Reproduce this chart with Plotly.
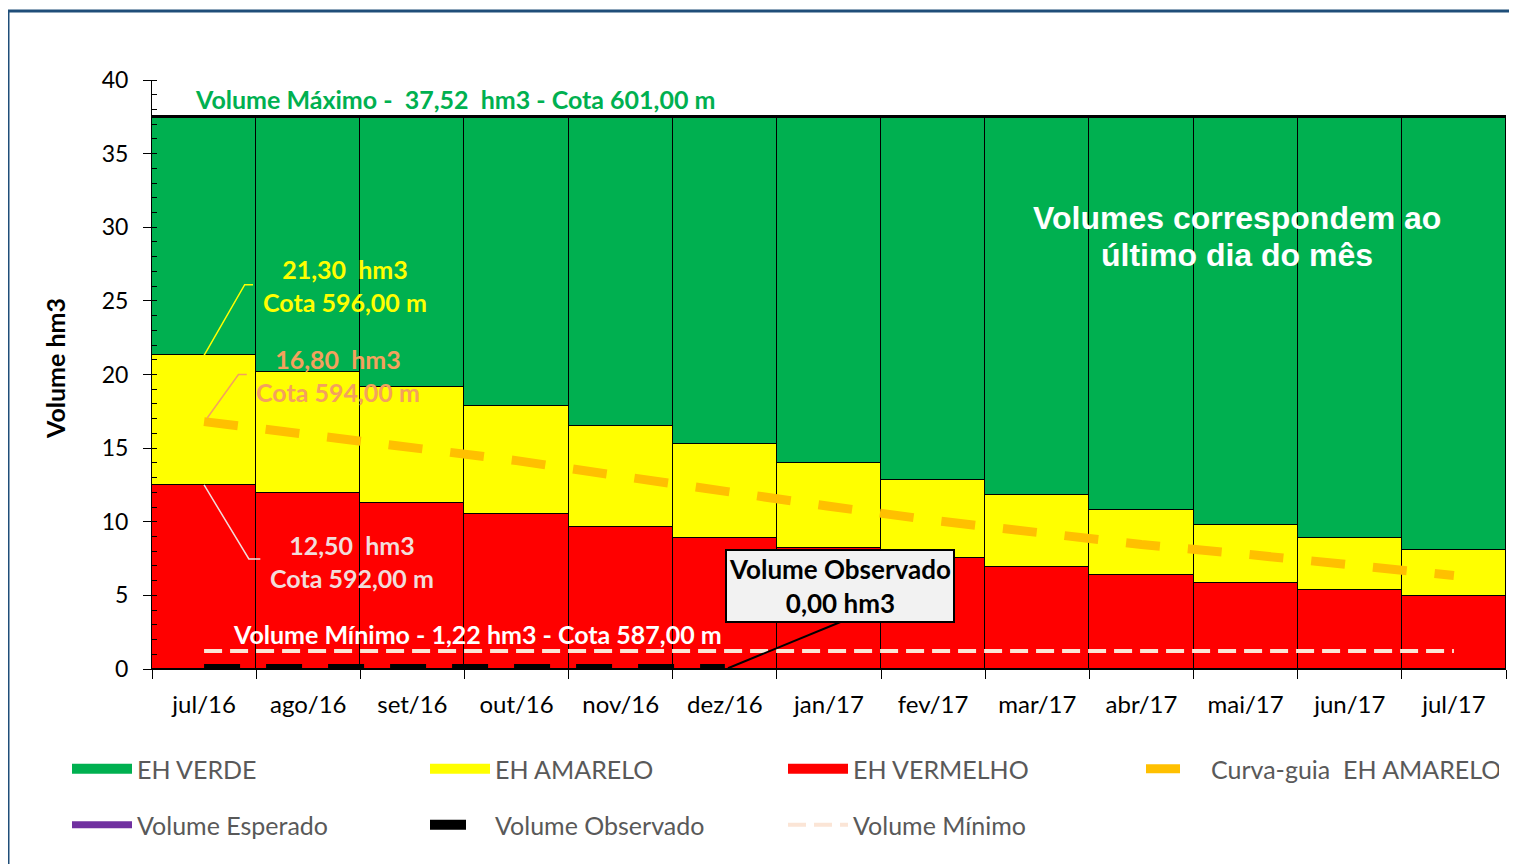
import plotly.graph_objects as go

# ---------------- data ----------------
months = ["jul/16", "ago/16", "set/16", "out/16", "nov/16", "dez/16", "jan/17",
          "fev/17", "mar/17", "abr/17", "mai/17", "jun/17", "jul/17"]
eh_vermelho_top = [12.50, 11.93, 11.25, 10.50, 9.62, 8.87, 8.20, 7.52, 6.91, 6.36, 5.82, 5.36, 4.94]
eh_amarelo_top = [21.30, 20.20, 19.13, 17.84, 16.48, 15.26, 13.97, 12.81, 11.80, 10.78, 9.80, 8.87, 8.06]
eh_verde_top = [37.52, 37.52, 37.52, 37.52, 37.52, 37.52, 37.52, 37.52, 37.52, 37.52, 37.52, 37.52, 37.52]
curva_guia = [16.80, 15.95, 15.10, 14.15, 13.10, 12.00, 11.05, 10.10, 9.20, 8.45, 7.80, 7.05, 6.35]
volume_minimo = [1.22, 1.22, 1.22, 1.22, 1.22, 1.22, 1.22, 1.22, 1.22, 1.22, 1.22, 1.22, 1.22]
obs_months = ["jul/16", "ago/16", "set/16", "out/16", "nov/16", "dez/16"]
volume_observado = [0.00, 0.00, 0.00, 0.00, 0.00, 0.00]
volume_maximo = 37.52

# ---------------- layout constants ----------------
W, H = 1517, 864
BODY = 8                      # default page body margin
PL, PT, PW, PH = 152, 80, 1354, 589   # plot area in page pixels
L, T = PL - BODY, PT - BODY
R, B = W - L - PW, H - T - PH
FONT = "Lato"
COLORS = {"verde": "#00B050", "amarelo": "#FFFF00", "vermelho": "#FF0000"}


def px(x):
    return (x - PL) / PW


def py(y):
    return (PT + PH - y) / PH


amarelo_h = [a - v for a, v in zip(eh_amarelo_top, eh_vermelho_top)]
verde_h = [g - a for g, a in zip(eh_verde_top, eh_amarelo_top)]

fig = go.Figure()
bar_line = dict(color="black", width=1)
fig.add_trace(go.Bar(x=months, y=eh_vermelho_top, name="EH VERMELHO", marker=dict(color=COLORS["vermelho"], line=bar_line),
                     width=1, showlegend=False))
fig.add_trace(go.Bar(x=months, y=amarelo_h, name="EH AMARELO", marker=dict(color=COLORS["amarelo"], line=bar_line),
                     width=1, showlegend=False))
fig.add_trace(go.Bar(x=months, y=verde_h, name="EH VERDE", marker=dict(color=COLORS["verde"], line=bar_line),
                     width=1, showlegend=False))
fig.add_trace(go.Scatter(x=months, y=curva_guia, mode="lines", name="Curva-guia  EH AMARELO",
                         line=dict(color="#FFC000", width=9, dash="34px,28px"), legendrank=4, legend="legend"))
fig.add_trace(go.Scatter(x=months, y=volume_minimo, mode="lines", name="Volume Mínimo",
                         line=dict(color="#FBE5D6", width=4, dash="18px,8px"), legendrank=7, legend="legend2"))
fig.add_trace(go.Scatter(x=obs_months, y=volume_observado, mode="lines", name="Volume Observado",
                         line=dict(color="black", width=10, dash="36px,26px"), legendrank=6, legend="legend2",
                         cliponaxis=False))
fig.add_trace(go.Scatter(x=[None], y=[None], mode="lines", name="Volume Esperado",
                         line=dict(color="#7030A0", width=7), legendrank=5, legend="legend2"))
# legend swatches for the stacked bands
for rank, (key, label) in enumerate([("verde", "EH VERDE"), ("amarelo", "EH AMARELO"), ("vermelho", "EH VERMELHO")], 1):
    fig.add_trace(go.Scatter(x=[None], y=[None], mode="lines", name=label,
                             line=dict(color=COLORS[key], width=16), legendrank=rank, legend="legend"))

# ---------------- shapes ----------------
shapes = []
shapes.append(dict(type="line", xref="x", yref="y", x0=-0.5, x1=len(months) - 0.5,
                   y0=volume_maximo, y1=volume_maximo, line=dict(color="black", width=3)))
shapes.append(dict(type="path", xref="x", yref="y",
                   path=f"M 0,{eh_amarelo_top[0]} L 0.39,26.1 L 0.47,26.1",
                   line=dict(color="#FFFF00", width=1.5)))
shapes.append(dict(type="path", xref="x", yref="y",
                   path=f"M 0.03,{curva_guia[0] + 0.25} L 0.33,20.0 L 0.41,20.0",
                   line=dict(color="#F4A15D", width=1.5)))
shapes.append(dict(type="path", xref="x", yref="y",
                   path=f"M 0,{eh_vermelho_top[0]} L 0.43,7.47 L 0.54,7.47",
                   line=dict(color="#F2DCDB", width=1.5)))
shapes.append(dict(type="line", xref="x", yref="y", x0=5.03, y0=volume_observado[-1] + 0.05, x1=6.11, y1=3.19,
                   line=dict(color="black", width=2)))
# outer blue frame
shapes.append(dict(type="rect", xref="paper", yref="paper", x0=px(8), x1=px(1600), y0=py(950), y1=py(11),
                   line=dict(color="#1F4E79", width=3), layer="above"))

# ---------------- annotations ----------------
ann = []
ann.append(dict(text="Volume Máximo -  37,52  hm3 - Cota 601,00 m", x=px(455), y=py(99),
                font=dict(family=FONT, size=25, color="#00B050", weight="bold")))
ann.append(dict(text="21,30  hm3<br>Cota 596,00 m", x=px(345), y=py(285),
                font=dict(family=FONT, size=25, color="#FFFF00", weight="bold")))
ann.append(dict(text="16,80  hm3<br>Cota 594,00 m", x=px(338), y=py(375),
                font=dict(family=FONT, size=25, color="#F4A15D", weight="bold")))
ann.append(dict(text="12,50  hm3<br>Cota 592,00 m", x=px(352), y=py(561),
                font=dict(family=FONT, size=25, color="#F2DCDB", weight="bold")))
ann.append(dict(text="Volume Mínimo - 1,22 hm3 - Cota 587,00 m", x=px(477), y=py(634),
                font=dict(family=FONT, size=25, color="white", weight="bold")))
ann.append(dict(text="Volume Observado<br>0,00 hm3", x=px(840), y=py(586),
                font=dict(family=FONT, size=26, color="black", weight="bold"),
                bgcolor="#F2F2F2", bordercolor="black", borderwidth=2, borderpad=2))
ann.append(dict(text="Volumes correspondem ao", x=px(1237), y=py(218),
                font=dict(family="Liberation Sans", size=32, color="white", weight="bold")))
ann.append(dict(text="último dia do mês", x=px(1237), y=py(255),
                font=dict(family="Liberation Sans", size=32, color="white", weight="bold")))
ann.append(dict(text="Volume hm3", x=px(55), y=py(369), textangle=-90,
                font=dict(family=FONT, size=25, color="black", weight="bold")))
for a in ann:
    a.update(xref="paper", yref="paper", showarrow=False, xanchor="center", yanchor="middle")

legend_common = dict(orientation="h", xanchor="left", yanchor="top",
                     entrywidth=283, entrywidthmode="pixels", itemwidth=60,
                     font=dict(family=FONT, size=25, color="#595959"), traceorder="normal")
fig.update_layout(
    width=W, height=H,
    margin=dict(l=L, r=R, t=T, b=B),
    paper_bgcolor="white", plot_bgcolor="white",
    barmode="stack", bargap=0,
    font=dict(family=FONT, color="black"),
    shapes=shapes, annotations=ann,
    legend=dict(x=px(67), y=py(746), **legend_common),
    legend2=dict(x=px(67), y=py(802), **legend_common),
)
fig.update_xaxes(type="category", range=[-0.5, len(months) - 0.5], showline=True, linecolor="black", linewidth=1,
                 ticks="outside", tickson="boundaries", ticklen=9, tickcolor="black", showgrid=False,
                 tickfont=dict(family=FONT, size=24, color="black"), ticklabelstandoff=14, zeroline=False)
fig.update_yaxes(range=[0, 40], dtick=5, showline=True, linecolor="black", linewidth=1, showgrid=False,
                 ticks="outside", ticklen=8, tickcolor="black", zeroline=False, ticklabelstandoff=10,
                 tickfont=dict(family=FONT, size=23, color="black"),
                 minor=dict(dtick=1, ticks="inside", ticklen=5, tickcolor="black", showgrid=False))

fig.write_html("out.html")
